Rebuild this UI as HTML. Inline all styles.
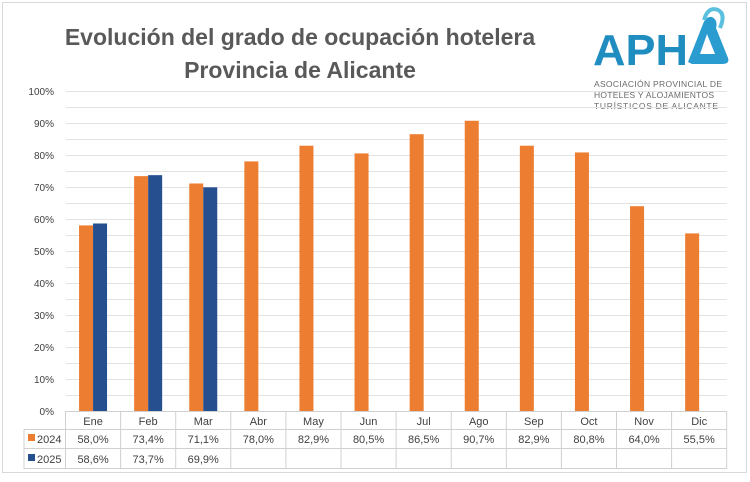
<!DOCTYPE html>
<html><head><meta charset="utf-8"><style>
body{margin:0;background:#fff;}
svg text{font-family:"Liberation Sans",sans-serif;}
</style></head><body>
<svg width="750" height="477" xmlns="http://www.w3.org/2000/svg">
<rect x="0" y="0" width="750" height="477" fill="#fff"/>
<rect x="2.5" y="2.5" width="744" height="470" fill="none" stroke="#d9d9d9"/>
<text x="300" y="45" text-anchor="middle" font-size="23" font-weight="bold" fill="#595959">Evolución del grado de ocupación hotelera</text>
<text x="300" y="78" text-anchor="middle" font-size="23" font-weight="bold" fill="#595959">Provincia de Alicante</text>
<!-- logo -->
<text x="593" y="65" font-size="44" font-weight="bold" fill="#1f8dc0" textLength="95" lengthAdjust="spacingAndGlyphs">APH</text>
<path d="M688 62 L703 24 Q706 16 712 17 Q718 20 716 28 L728 58 Q730 64 722 64 L692 64 Z" fill="#2a9ccf"/>
<path d="M700 54 L707 34 L715 54 Z" fill="#fff"/>
<path d="M704 20 Q708 6 718 10 Q726 14 720 28" fill="none" stroke="#5bc0de" stroke-width="4"/>
<text x="594" y="87" font-size="8.5" fill="#6a6a6a" textLength="128">ASOCIACIÓN PROVINCIAL DE</text>
<text x="594" y="98" font-size="8.5" fill="#6a6a6a" textLength="120">HOTELES Y ALOJAMIENTOS</text>
<text x="594" y="109" font-size="8.5" fill="#6a6a6a" textLength="124">TURÍSTICOS DE ALICANTE</text>
<g id="grid" stroke="#e3e3e3" stroke-width="1"></g>
<g id="bars"></g>
<g id="tbl" font-size="11" fill="#404040"></g>
</svg>
<script>
const ns="http://www.w3.org/2000/svg";
function el(p,t,a,txt){const e=document.createElementNS(ns,t);for(const k in a)e.setAttribute(k,a[k]);if(txt!==undefined)e.textContent=txt;document.getElementById(p).appendChild(e);}
const L=65.5,W=55.1,R=L+12*W,Y0=411,S=3.2;
for(let p=0;p<=100;p+=5){const y=Y0-p*S+0.5;el('grid','line',{x1:L,x2:R,y1:y,y2:y});}
for(let p=0;p<=100;p+=10){el('tbl','text',{x:54,y:Y0-p*S+4,'text-anchor':'end','font-size':10},p+'%');}
const m=["Ene","Feb","Mar","Abr","May","Jun","Jul","Ago","Sep","Oct","Nov","Dic"];
const a=[58.0,73.4,71.1,78.0,82.9,80.5,86.5,90.7,82.9,80.8,64.0,55.5];
const b=[58.6,73.7,69.9];
m.forEach((n,i)=>{const c=L+W*i+W/2;
 el('bars','rect',{x:c-14,y:Y0-a[i]*S,width:14,height:a[i]*S,fill:'#ed7d31'});
 if(i<3)el('bars','rect',{x:c,y:Y0-b[i]*S,width:14,height:b[i]*S,fill:'#264f8f'});
 el('tbl','text',{x:c,y:425,'text-anchor':'middle'},n);
 el('tbl','text',{x:c,y:443,'text-anchor':'middle'},a[i].toFixed(1).replace('.',',')+'%');
 if(i<3)el('tbl','text',{x:c,y:463,'text-anchor':'middle'},b[i].toFixed(1).replace('.',',')+'%');
});
el('grid','line',{x1:24,x2:R,y1:429.5,y2:429.5,stroke:'#d0d0d0'});
el('grid','line',{x1:24,x2:R,y1:448.5,y2:448.5,stroke:'#d0d0d0'});
el('grid','line',{x1:24,x2:R,y1:468.5,y2:468.5,stroke:'#d0d0d0'});
el('grid','line',{x1:24,x2:24,y1:429,y2:469,stroke:'#d0d0d0'});
for(let i=0;i<=12;i++){const x=L+W*i;el('grid','line',{x1:x,x2:x,y1:411,y2:469,stroke:'#d0d0d0'});}
el('grid','line',{x1:L,x2:R,y1:411.5,y2:411.5,stroke:'#d0d0d0'});
el('bars','rect',{x:28,y:434,width:7,height:7,fill:'#ed7d31'});
el('bars','rect',{x:28,y:454,width:7,height:7,fill:'#264f8f'});
el('tbl','text',{x:37,y:443},'2024');
el('tbl','text',{x:37,y:463},'2025');
</script>
</body></html>
